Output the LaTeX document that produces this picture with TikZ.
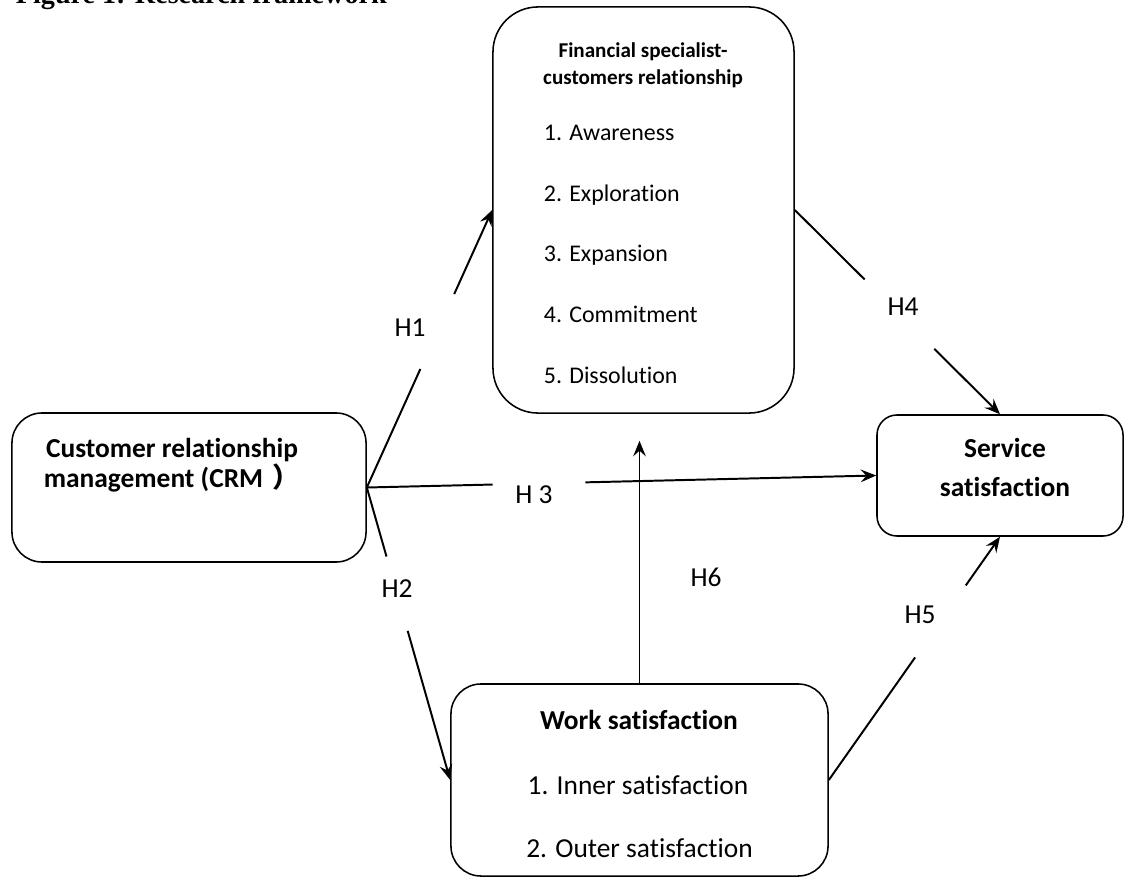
\documentclass[tikz,border=0pt]{standalone}
\usepackage{fontspec}
\setmainfont{Carlito}[Ligatures=NoCommon]
\newfontfamily\capfont{Liberation Serif}
\newfontfamily\cjk{Noto Sans CJK TC}
\usetikzlibrary{arrows.meta,calc}

\begin{document}
\begin{tikzpicture}[x=0.025cm,y=-0.025cm,>={Stealth[length=11pt,width=9pt,inset=4pt]},
    box/.style={draw,line width=1.1pt,inner sep=0pt},
    link/.style={line width=1.4pt},
    big/.style={font=\fontsize{19.5}{21.3}\selectfont},
    hyp/.style={font=\fontsize{19.5}{23}\selectfont}]
  \useasboundingbox (0,0) rectangle (1125,879);
  \node[font=\capfont\bfseries\fontsize{20}{24}\selectfont,anchor=base west] (caption) at (11,4) {Figure 1: Research framework};

  % boxes
  \node[box,rounded corners=1.125cm,minimum width=7.525cm,minimum height=10.15cm] (fsc) at (643.5,210) {};
  \node[box,rounded corners=0.75cm,minimum width=8.85cm,minimum height=3.725cm] (crm) at (189,487.5) {};
  \node[box,rounded corners=0.5cm,minimum width=6.15cm,minimum height=3.025cm] (ss) at (1000,475.5) {};
  \node[box,rounded corners=0.75cm,minimum width=9.425cm,minimum height=4.8cm] (ws) at (639.5,780) {};

  % box texts
  \node[font=\bfseries\fontsize{15}{19}\selectfont,align=center] (fsctitle) at (643,65) {Financial specialist-\\customers relationship};
  \foreach \stage [count=\i] in {Awareness,Exploration,Expansion,Commitment,Dissolution}
    \node[font=\fontsize{17}{20}\selectfont,anchor=base west] (stage\i) at (539,{80.5+60.5*\i}) {\i. \stage};
  \node[font=\bfseries\fontsize{19.5}{21.3}\selectfont,align=center] (crmtext) at (172,465) {Customer relationship\\management (CRM\hspace{0.35em}{\cjk ）}};
  \node[font=\bfseries\fontsize{19.5}{27.7}\selectfont,align=center] (sstext) at (1005,467.5) {Service\\satisfaction};
  \node[font=\bfseries\fontsize{19.5}{23}\selectfont] (wstitle) at (639,720) {Work satisfaction};
  \node[big] (inner) at (638,785) {1. Inner satisfaction};
  \node[big] (outer) at (639.5,848) {2. Outer satisfaction};

  % hypotheses
  \coordinate (h1a) at ($(crm.east)!0.427!(fsc.west)$);
  \coordinate (h1b) at ($(crm.east)!0.697!(fsc.west)$);
  \draw[link] (crm.east) -- (h1a);
  \draw[link,->] (h1b) -- (fsc.west);
  \node[hyp] (H1) at (410,328) {H1};

  \coordinate (h2a) at ($(crm.east)!0.236!(ws.west)$);
  \coordinate (h2b) at ($(crm.east)!0.49!(ws.west)$);
  \draw[link] (crm.east) -- (h2a);
  \draw[link,->] (h2b) -- (ws.west);
  \node[hyp] (H2) at (397,589) {H2};

  \coordinate (h3a) at ($(crm.east)!0.247!(ss.west)$);
  \coordinate (h3b) at ($(crm.east)!0.429!(ss.west)$);
  \draw[link] (crm.east) -- (h3a);
  \draw[link,->] (h3b) -- (ss.west);
  \node[hyp] (H3) at (534,495) {H 3};

  \coordinate (h4a) at ($(fsc.east)!0.34!(ss.north)$);
  \coordinate (h4b) at ($(fsc.east)!0.68!(ss.north)$);
  \draw[link] (fsc.east) -- (h4a);
  \draw[link,->] (h4b) -- (ss.north);
  \node[hyp] (H4) at (903,307) {H4};

  \coordinate (h5a) at ($(ws.east)!0.504!(ss.south)$);
  \coordinate (h5b) at ($(ws.east)!0.8!(ss.south)$);
  \draw[link] (ws.east) -- (h5a);
  \draw[link,->] (h5b) -- (ss.south);
  \node[hyp] (H5) at (920,615) {H5};

  \draw[link,->,shorten >=0.675cm] (ws.north) -- (ws.north |- fsc.south);
  \node[hyp] (H6) at (706,577) {H6};
\end{tikzpicture}
\end{document}
